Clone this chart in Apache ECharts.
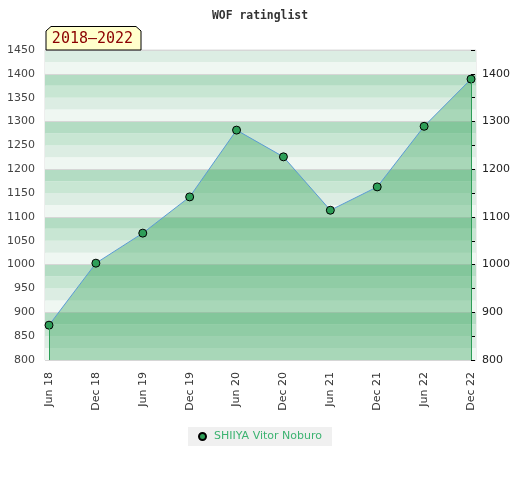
<!DOCTYPE html>
<html>
<head>
<meta charset="utf-8">
<script src="https://cdn.jsdelivr.net/npm/echarts@6/dist/echarts.min.js"></script>
<style>html,body{margin:0;padding:0;background:#fff}#c{width:520px;height:480px}</style>
</head>
<body>
<div id="c"></div>
<script>
const categories = ['Jun 18','Dec 18','Jun 19','Dec 19','Jun 20','Dec 20','Jun 21','Dec 21','Jun 22','Dec 22'];
const ratings = [873, 1003, 1066, 1142, 1282, 1226, 1114, 1163, 1290, 1389];
const playerName = 'SHIIYA Vitor Noburo';
const periodLabel = '2018–2022';
const yMin = 800, yMax = 1450;

const chart = echarts.init(document.getElementById('c'), null, {renderer: 'canvas'});
const font = 'DejaVu Sans';
chart.setOption({
  animation: false,
  backgroundColor: '#fff',
  title: {
    text: 'WOF ratinglist', left: 'center', top: 6,
    textStyle: {fontFamily: 'DejaVu Sans Mono', fontWeight: 'bold', fontSize: 11.4, color: '#333'}
  },
  legend: {
    left: 188, top: 427, padding: [4, 10], backgroundColor: '#f0f0f0',
    icon: 'circle', itemWidth: 7, itemHeight: 7, itemGap: 10,
    textStyle: {fontFamily: font, fontSize: 11, color: '#3cb371', padding: [0, 0, 0, 3]},
    data: [playerName]
  },
  grid: [
    {left: 45, right: 44, top: 50, bottom: 120, show: true, borderColor: '#dddddd', borderWidth: 1, backgroundColor: 'transparent'},
    {left: 49, right: 49, top: 50, bottom: 120}
  ],
  xAxis: [
    {gridIndex: 0, type: 'value', min: 0, max: 1, show: false},
    {gridIndex: 1, type: 'category', boundaryGap: false, data: categories,
     axisLine: {show: false}, axisTick: {show: false}, splitLine: {show: false},
     axisLabel: {rotate: 90, margin: 12, fontFamily: font, fontSize: 11, color: '#333'}}
  ],
  yAxis: [
    {gridIndex: 0, type: 'value', position: 'left', min: yMin, max: yMax, interval: 25,
     axisLine: {show: false}, axisTick: {show: false},
     splitLine: {show: false},
     splitArea: {show: true, areaStyle: {color: ['#eff7f2', '#dcede3', '#c8e6d3', '#b3dcc3']}},
     axisLabel: {margin: 10, fontFamily: font, fontSize: 11, color: '#444',
       formatter: v => (v % 50 === 0 ? String(v) : '')}},
    {gridIndex: 0, type: 'value', position: 'right', min: yMin, max: yMax, interval: 100,
     axisLine: {show: false}, axisTick: {show: false}, axisLabel: {show: false},
     splitLine: {show: true, lineStyle: {color: '#d6d6d6', width: 1}}},
    {gridIndex: 1, type: 'value', position: 'right', min: yMin, max: yMax, interval: 50,
     axisLine: {show: false},
     axisTick: {show: true, length: 4, lineStyle: {color: '#000'}},
     splitLine: {show: false},
     axisLabel: {margin: 11, fontFamily: font, fontSize: 11, color: '#222',
       formatter: v => (v % 100 === 0 ? String(v) : '')}}
  ],
  series: [{
    name: playerName, type: 'line', xAxisIndex: 1, yAxisIndex: 2,
    data: ratings,
    symbol: 'circle', symbolSize: 8,
    itemStyle: {color: '#2e9e58', borderColor: '#000', borderWidth: 1},
    lineStyle: {color: '#5b9bd5', width: 1},
    areaStyle: {color: 'rgba(55,165,90,0.55)', origin: 'start'},
    markLine: {
      silent: true, symbol: 'none', label: {show: false},
      lineStyle: {color: '#2e9e58', type: 'solid', width: 1},
      data: [
        [{coord: [categories[0], ratings[0]]}, {coord: [categories[0], yMin]}],
        [{coord: [categories[categories.length - 1], ratings[ratings.length - 1]]}, {coord: [categories[categories.length - 1], yMin]}]
      ]
    },
    z: 3
  }],
  graphic: [
    {type: 'polygon', z: 10,
     shape: {points: [[46, 50], [46, 31], [51, 26.5], [136, 26.5], [141, 31], [141, 50]]},
     style: {fill: '#ffffcc', stroke: '#000', lineWidth: 1}},
    {type: 'text', z: 11, x: 92.5, y: 39,
     style: {text: periodLabel, fill: '#8b0000', font: '15px "DejaVu Sans Mono"', align: 'center', verticalAlign: 'middle'}}
  ]
});
</script>
</body>
</html>
